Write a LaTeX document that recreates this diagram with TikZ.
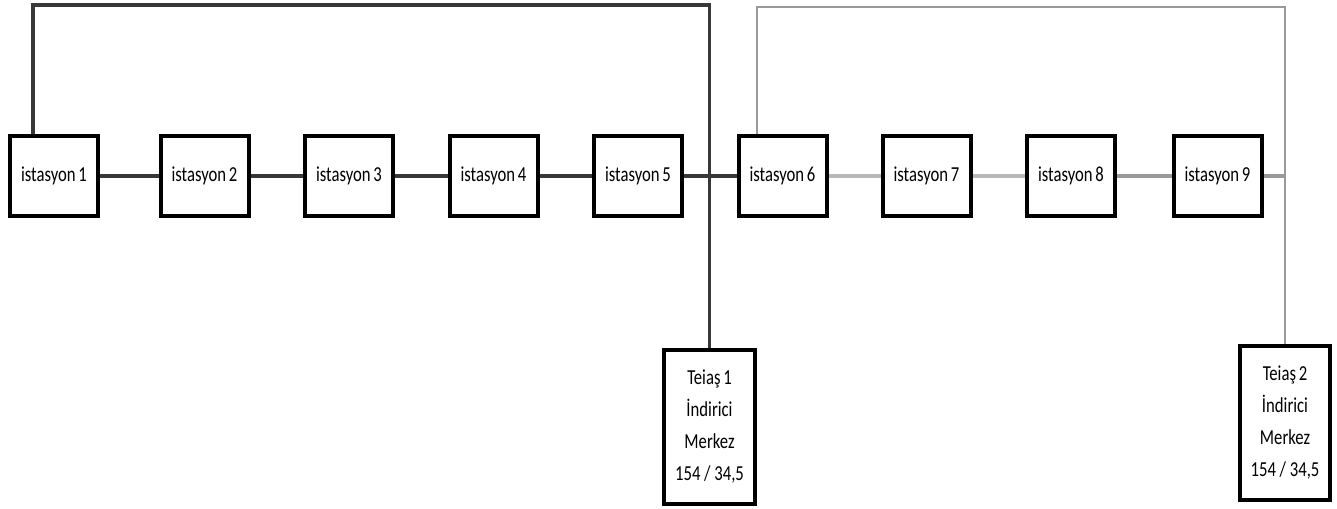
\documentclass[tikz,border=0pt]{standalone}
\usepackage{fontspec}
\setmainfont{Carlito}
\usepackage{graphicx}
\usepackage{tikz}
\definecolor{darkline}{HTML}{383838}
\definecolor{midline}{HTML}{9A9A9A}
\definecolor{lightline}{HTML}{B8B8B8}
\newcommand{\tallt}[1]{\scalebox{1}[1.28]{#1}}
\tikzset{
  station/.style={draw,line width=3pt,minimum width=66pt,minimum height=60pt,
    inner sep=0pt,font=\fontsize{12.5}{15}\selectfont},
  teias/.style={draw,line width=3pt,minimum width=68pt,minimum height=115pt,
    inner sep=0pt,align=center,font=\fontsize{12.5}{24}\selectfont},
}

\begin{document}
\begin{tikzpicture}[x=0.75pt,y=-0.75pt]
      \useasboundingbox (0,0) rectangle (1337,508);

      \foreach \t/\x in {1/54, 2/204.5, 3/349, 4/493.5, 5/638, 6/782.5, 7/926.5, 8/1071, 9/1217.5} {
        \node[station](s\t) at (\x, 176) {\tallt{istasyon\,\t}};
      }

      \node[teias](t1) at (709.5, 427) {\tallt{Teiaş\,1}\\\tallt{İndirici}\\\tallt{Merkez}\\\tallt{154 / 34,5}};
      \node[teias](t2) at (1285, 423) {\tallt{Teiaş\,2}\\\tallt{İndirici}\\\tallt{Merkez}\\\tallt{154 / 34,5}};

      % station chain
      \foreach \s/\t in {1/2, 2/3, 3/4, 4/5, 5/6} {
        \draw[darkline,line width=2.6pt] (s\s.east) -- (s\t.west);
      }
      \foreach \s/\t in {6/7, 7/8} {
        \draw[lightline,line width=2.6pt] (s\s.east) -- (s\t.west);
      }
      \draw[midline,line width=2.6pt] (s8.east) -- (s9.west);

      % feeders
      \coordinate (top1) at (33, 5);
      \coordinate (top2) at (757, 7);
      \draw[darkline,line width=2.5pt] (s1.north -| top1) -- (top1) -| (t1.north);
      \draw[midline,line width=2.1pt] (s6.north -| top2) -- (top2) -| (t2.north);
      \draw[midline,line width=2.6pt] (s9.east) -- (s9.east -| t2.north);
\end{tikzpicture}
\end{document}
